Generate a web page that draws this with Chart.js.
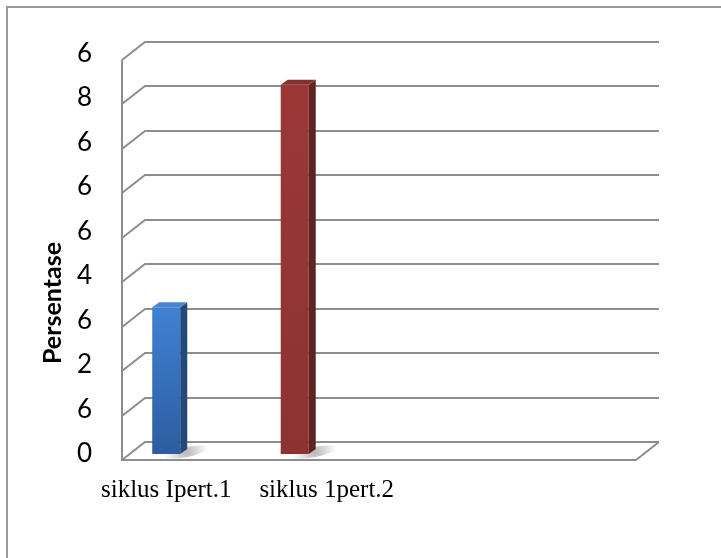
<!DOCTYPE html>
<html>
<head>
<meta charset="utf-8">
<script src="https://cdn.jsdelivr.net/npm/chart.js@4.4.1/dist/chart.umd.min.js"></script>
<style>
  html, body { margin: 0; padding: 0; background: #fff; }
  #wrap { width: 721px; height: 558px; }
</style>
</head>
<body>
<div id="wrap"><canvas id="grafico" width="721" height="558"></canvas></div>
<script>
// data
const kategori = ['siklus Ipert.1', 'siklus 1pert.2', '', ''];
const nilai = [33, 83, null, null];
const kosong = [null, null, null, null];
const labelY = ['0', '6', '2', '6', '4', '6', '6', '6', '8', '6'];
const judulY = 'Persentase';

// gaya batang (depan atas, depan bawah, samping, atas)
const warna = [
  { atas: '#4081d4', bawah: '#2c5d9f', samping: '#244a7c', tutup: '#4a86d2' },
  { atas: '#9a3836', bawah: '#8c3331', samping: '#5e2322', tutup: '#833130' }
];

const GRIS = '#8e8e8e';
const DX = 7, DY = 5;          // kedalaman batang
const BX = 15, BY = -12;       // dinding belakang
const FX = -8, FY = 6;         // tepi depan
const geserLabel = [-28, 4];

function isiBatang(ctx) {
  const chart = ctx.chart;
  const w = warna[ctx.dataIndex] || warna[0];
  if (!chart.chartArea || ctx.raw == null) return w.atas;
  const y = chart.scales.y;
  const top = y.getPixelForValue(ctx.raw);
  const base = y.getPixelForValue(0);
  const g = chart.ctx.createLinearGradient(0, top, 0, base);
  g.addColorStop(0, w.atas);
  g.addColorStop(1, w.bawah);
  return g;
}

const ruang3d = {
  id: 'ruang3d',
  beforeDraw(chart) {
    const c = chart.ctx;
    c.save();
    c.strokeStyle = '#9a9a9a';
    c.lineWidth = 2;
    c.strokeRect(7, 7, 1000, 1000);
    c.restore();
  },
  beforeDatasetsDraw(chart) {
    const c = chart.ctx;
    const a = chart.chartArea;
    const y = chart.scales.y;
    c.save();
    c.strokeStyle = GRIS;
    c.lineWidth = 2;
    c.beginPath();
    y.ticks.forEach(t => {
      const py = Math.round(y.getPixelForValue(t.value));
      c.moveTo(a.left + FX, py + FY);
      c.lineTo(a.left + BX, py + BY);
      c.lineTo(a.right + BX, py + BY);
    });
    const bot = Math.round(y.getPixelForValue(0));
    const top = Math.round(y.getPixelForValue(y.max));
    c.moveTo(a.left + FX, top + FY);
    c.lineTo(a.left + FX, bot + FY);
    c.lineTo(a.right + FX, bot + FY);
    c.lineTo(a.right + BX, bot + BY);
    c.stroke();

    // bayangan di lantai
    chart.getDatasetMeta(0).data.forEach((el, i) => {
      if (nilai[i] == null) return;
      const p = el.getProps(['x', 'base', 'width'], true);
      const cx = p.x + p.width / 2 + 6, cy = p.base - 2;
      const g = c.createRadialGradient(cx, cy, 0, cx, cy, 22);
      g.addColorStop(0, 'rgba(0,0,0,0.28)');
      g.addColorStop(1, 'rgba(0,0,0,0)');
      c.fillStyle = g;
      c.beginPath();
      c.ellipse(cx, cy, 24, 5, -0.2, 0, Math.PI * 2);
      c.fill();
    });
    c.restore();
  },
  afterDatasetsDraw(chart) {
    const c = chart.ctx;
    c.save();
    chart.getDatasetMeta(0).data.forEach((el, i) => {
      if (nilai[i] == null) return;
      const w = warna[i];
      const p = el.getProps(['x', 'y', 'base', 'width'], true);
      const l = p.x - p.width / 2, r = p.x + p.width / 2;
      c.fillStyle = w.samping;
      c.beginPath();
      c.moveTo(r, p.y);
      c.lineTo(r + DX, p.y - DY);
      c.lineTo(r + DX, p.base - DY);
      c.lineTo(r, p.base);
      c.closePath();
      c.fill();
      c.fillStyle = w.tutup;
      c.beginPath();
      c.moveTo(l, p.y);
      c.lineTo(l + DX, p.y - DY);
      c.lineTo(r + DX, p.y - DY);
      c.lineTo(r, p.y);
      c.closePath();
      c.fill();
    });
    c.restore();
  },
  afterDraw(chart) {
    const c = chart.ctx;
    const x = chart.scales.x;
    c.save();
    c.fillStyle = '#000';
    c.font = '25px "Liberation Serif", "Times New Roman", serif';
    c.textAlign = 'center';
    c.textBaseline = 'alphabetic';
    kategori.forEach((k, i) => {
      if (!k) return;
      c.fillText(k, x.getPixelForValue(i) + geserLabel[i], 497);
    });
    c.font = 'bold 25px Lato, "Open Sans", sans-serif';
    c.translate(53, 303);
    c.rotate(-Math.PI / 2);
    c.textBaseline = 'middle';
    c.fillText(judulY, 0, 0);
    c.restore();
  }
};

const chart = new Chart(document.getElementById('grafico').getContext('2d'), {
  type: 'bar',
  data: {
    labels: kategori,
    datasets: [
      { label: 'Seri 1', data: nilai, backgroundColor: isiBatang },
      { label: 'Seri 2', data: kosong },
      { label: 'Seri 3', data: kosong }
    ]
  },
  options: {
    responsive: false,
    animation: false,
    layout: { padding: { top: 47, right: 77, bottom: 104, left: 0 } },
    datasets: { bar: { categoryPercentage: 0.654, barPercentage: 1 } },
    plugins: { legend: { display: false }, tooltip: { enabled: false } },
    scales: {
      x: { display: false },
      y: {
        min: 0,
        max: 90,
        grid: { display: false, drawTicks: false },
        border: { display: false },
        ticks: {
          stepSize: 10,
          padding: 38,
          color: '#000',
          font: { family: 'Lato', size: 26 },
          callback: (v, i) => labelY[i]
        },
        afterFit: s => { s.width = 130; }
      }
    }
  },
  plugins: [ruang3d]
});
</script>
</body>
</html>
